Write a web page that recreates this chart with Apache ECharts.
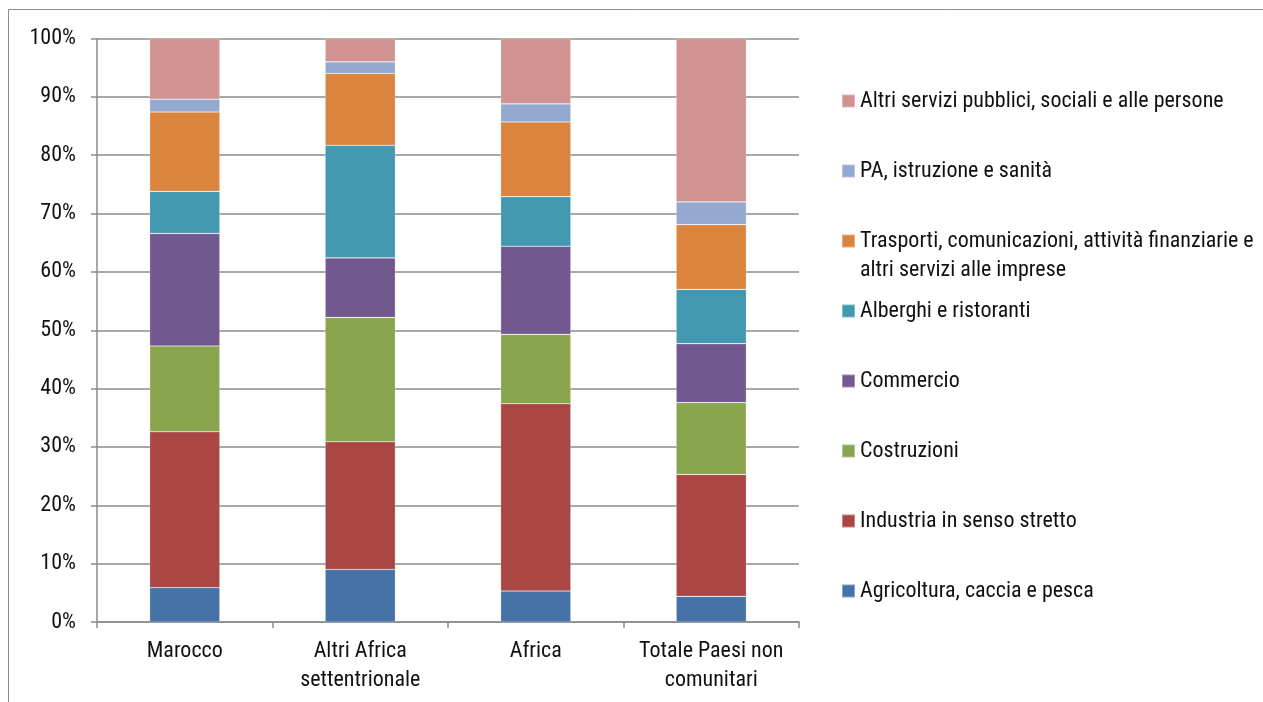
<!DOCTYPE html>
<html>
<head>
<meta charset="utf-8">
<title>Occupati per settore di attività</title>
<script src="https://cdn.jsdelivr.net/npm/echarts@6/dist/echarts.min.js"></script>
<style>
  html, body { margin: 0; padding: 0; background: #ffffff; }
  #chart { width: 1263px; height: 702px; }
</style>
</head>
<body>
<div id="chart"></div>
<script>
// Areas of origin (x axis)
const categories = ['Marocco', 'Altri Africa\nsettentrionale', 'Africa', 'Totale Paesi non\ncomunitari'];

// Share of employed by sector, % (stacked bottom to top)
const agricoltura = [5.9, 9.0, 5.3, 4.4];
const industria   = [26.7, 21.9, 32.1, 20.9];
const costruzioni = [14.7, 21.3, 11.9, 12.3];
const commercio   = [19.3, 10.2, 15.1, 10.1];
const alberghi    = [7.2, 19.3, 8.5, 9.3];
const trasporti   = [13.6, 12.3, 12.8, 11.1];
const pa          = [2.2, 2.0, 3.1, 3.9];
const altriServizi = [10.4, 4.0, 11.2, 28.0];

const seriesNames = [
  'Agricoltura, caccia e pesca',
  'Industria in senso stretto',
  'Costruzioni',
  'Commercio',
  'Alberghi e ristoranti',
  'Trasporti, comunicazioni, attività finanziarie e altri servizi alle imprese',
  'PA, istruzione e sanità',
  'Altri servizi pubblici, sociali e alle persone'
];
const seriesValues = [agricoltura, industria, costruzioni, commercio, alberghi, trasporti, pa, altriServizi];
const seriesColors = ['#4572A7', '#AA4643', '#89A54E', '#71588F', '#4198AF', '#DB843D', '#93A9CF', '#D19392'];

// Y axis ticks
const yMin = 0, yMax = 100, yStep = 10;

const FONT = "'Roboto Condensed', 'Liberation Sans', Arial, sans-serif";
const TEXT = '#111111';
const LINE = '#8c8c8c';
const LH = 29;

const legendBase = {
  orient: 'vertical',
  left: 841,
  padding: 0,
  itemWidth: 13,
  itemHeight: 13,
  itemGap: 70 - LH,
  icon: 'rect',
  selectedMode: false,
  textStyle: { fontFamily: FONT, fontSize: 22, color: TEXT, lineHeight: LH }
};

const option = {
  animation: false,
  backgroundColor: '#ffffff',
  color: seriesColors,
  grid: { left: 97, right: 464, top: 38.5, bottom: 80, containLabel: false },
  xAxis: {
    type: 'category',
    data: categories,
    axisLine: { show: true, lineStyle: { color: LINE, width: 1.5 } },
    axisTick: { show: true, length: 6, alignWithLabel: false, lineStyle: { color: LINE, width: 1.5 } },
    axisLabel: { fontFamily: FONT, fontSize: 22, color: TEXT, margin: 15, lineHeight: LH, interval: 0 },
    splitLine: { show: false }
  },
  yAxis: {
    type: 'value',
    min: yMin, max: yMax, interval: yStep,
    axisLine: { show: true, lineStyle: { color: LINE, width: 1.5 } },
    axisTick: { show: true, inside: false, length: 6, lineStyle: { color: LINE, width: 1.5 } },
    axisLabel: { fontFamily: FONT, fontSize: 22, color: TEXT, margin: 21, formatter: '{value}%' },
    splitLine: { show: true, lineStyle: { color: LINE, width: 1.5 } }
  },
  legend: [
    Object.assign({}, legendBase, { top: 101 - LH / 2, data: [seriesNames[7], seriesNames[6]] }),
    Object.assign({}, legendBase, {
      top: 241 - LH * 1.5,
      data: [seriesNames[5]],
      // first text line sits level with the marker, second wraps below it
      formatter: () => '\nTrasporti, comunicazioni, attività finanziarie e\naltri servizi alle imprese'
    }),
    Object.assign({}, legendBase, { top: 311 - LH / 2, data: seriesNames.slice(0, 5).reverse() })
  ],
  series: seriesNames.map((name, i) => ({
    name: name,
    type: 'bar',
    stack: 'totale',
    barCategoryGap: '60%',
    data: seriesValues[i],
    itemStyle: { color: seriesColors[i], borderColor: 'rgba(255,255,255,0.35)', borderWidth: 0.6 },
    emphasis: { disabled: true }
  })),
  graphic: [{
    type: 'rect',
    silent: true,
    shape: { x: 8.5, y: 9.5, width: 1400, height: 900 },
    style: { fill: 'none', stroke: '#8c8c8c', lineWidth: 1 }
  }]
};

const chart = echarts.init(document.getElementById('chart'), null, { renderer: 'canvas' });
chart.setOption(option);
</script>
</body>
</html>
